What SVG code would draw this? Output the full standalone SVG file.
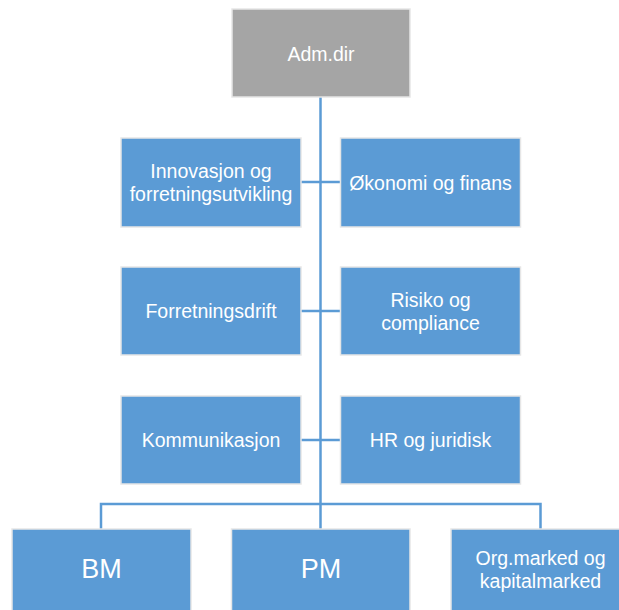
<svg xmlns="http://www.w3.org/2000/svg" width="619" height="610" viewBox="0 0 619 610">
<style>
.box{fill:#5b9bd5;stroke:#e6e6e6;stroke-width:1.5}
.top{fill:#a5a5a5;stroke:#e6e6e6;stroke-width:1.5}
.t{font-family:"Liberation Sans",Arial,sans-serif;font-size:19.5px;fill:#ffffff;text-anchor:middle}
.big{font-size:27px}
.c{fill:none;stroke:#5b9bd5;stroke-width:2.5}
</style>
<rect width="619" height="610" fill="#ffffff"/>
<g id="connectors">
<path class="c" d="M320.5 97 V529"/>
<path class="c" d="M301 182 H340.5 M301 311 H340.5 M301 440 H340.5"/>
<path class="c" d="M101 529 V504 H540.5 V529"/>
</g>
<g id="adm">
<rect class="top" x="232" y="9" width="178" height="88"/>
<text class="t" x="321" y="60.5">Adm.dir</text>
</g>
<g id="innovasjon">
<rect class="box" x="121" y="138" width="180" height="89"/>
<text class="t" x="211" y="177.5">Innovasjon og</text>
<text class="t" x="211" y="201">forretningsutvikling</text>
</g>
<g id="okonomi">
<rect class="box" x="340.5" y="138" width="180" height="89"/>
<text class="t" x="430.5" y="189.5">Økonomi og finans</text>
</g>
<g id="forretningsdrift">
<rect class="box" x="121" y="267" width="180" height="88"/>
<text class="t" x="211" y="318">Forretningsdrift</text>
</g>
<g id="risiko">
<rect class="box" x="340.5" y="267" width="180" height="88"/>
<text class="t" x="430.5" y="306.5">Risiko og</text>
<text class="t" x="430.5" y="330">compliance</text>
</g>
<g id="kommunikasjon">
<rect class="box" x="121" y="396" width="180" height="88"/>
<text class="t" x="211" y="447">Kommunikasjon</text>
</g>
<g id="hr">
<rect class="box" x="340.5" y="396" width="180" height="88"/>
<text class="t" x="430.5" y="447">HR og juridisk</text>
</g>
<g id="bm">
<rect class="box" x="12" y="529" width="179" height="90"/>
<text class="t big" x="101.5" y="577.5">BM</text>
</g>
<g id="pm">
<rect class="box" x="231.5" y="529" width="178.5" height="90"/>
<text class="t big" x="321" y="577.5">PM</text>
</g>
<g id="org">
<rect class="box" x="451" y="529" width="180" height="90"/>
<text class="t" x="540.5" y="565">Org.marked og</text>
<text class="t" x="540.5" y="588">kapitalmarked</text>
</g>
</svg>
